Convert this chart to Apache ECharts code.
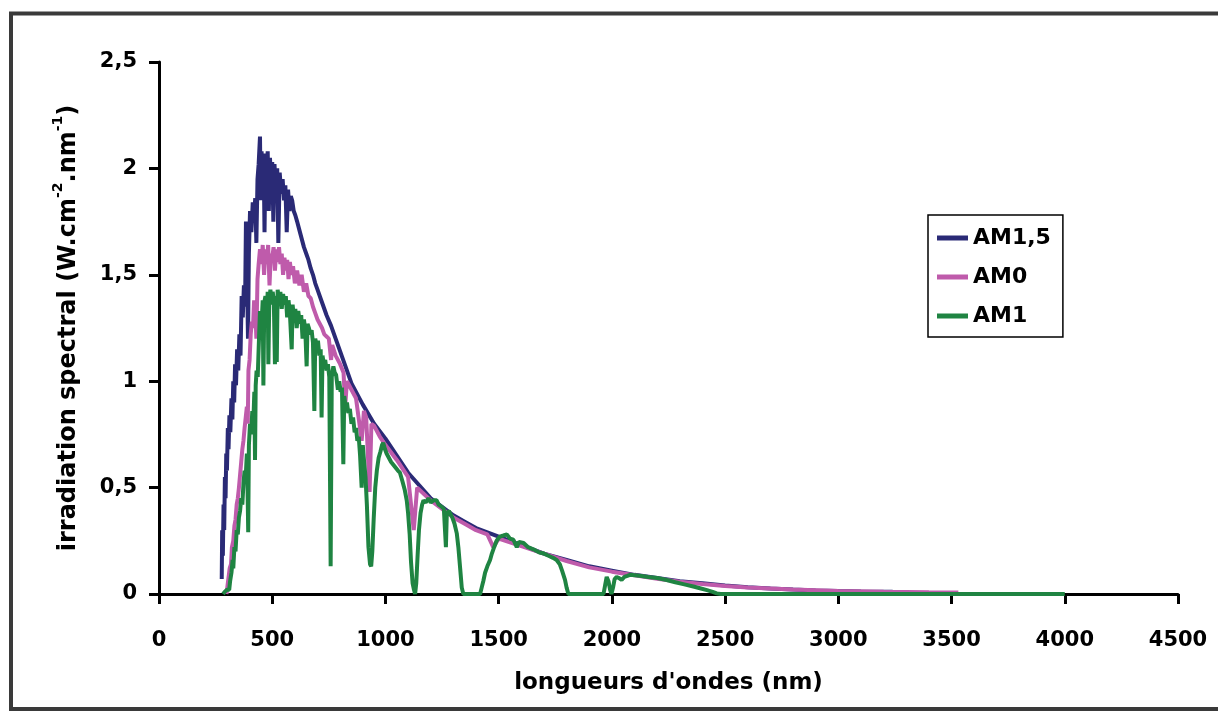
<!DOCTYPE html>
<html>
<head>
<meta charset="utf-8">
<script src="https://cdn.jsdelivr.net/npm/echarts@6/dist/echarts.min.js"></script>
<style>
html,body{margin:0;padding:0;background:#fff;}
#chart{width:1218px;height:711px;}
</style>
</head>
<body>
<div id="chart"></div>
<script>
// ---- data (wavelength nm, irradiance) ----
const seriesNames = ['AM1,5', 'AM0', 'AM1'];
const xTicks = [0, 500, 1000, 1500, 2000, 2500, 3000, 3500, 4000, 4500];
const yTicks = [0, 0.5, 1, 1.5, 2, 2.5];

const am15 = [[277,0.07],[279,0.30],[282,0.18],[285,0.42],[288,0.30],[291,0.55],[294,0.45],[297,0.66],[300,0.58],
[304,0.78],[307,0.68],[311,0.84],[315,0.76],[320,0.92],[324,0.82],[328,1.00],[332,0.90],[336,1.08],[340,0.98],
[345,1.15],[350,1.05],[355,1.22],[360,1.12],[365,1.40],[370,1.30],[375,1.45],[380,1.35],[384,1.75],[388,1.55],
[393,1.20],[397,1.60],[402,1.80],[408,1.70],[414,1.84],[420,1.78],[425,1.86],[430,1.65],[435,1.95],[440,2.02],
[446,2.15],[449,1.85],[453,2.08],[458,1.90],[462,2.07],[466,1.70],[470,2.05],[475,1.95],[480,2.08],[485,1.80],
[490,2.05],[495,1.95],[500,2.03],[505,1.75],[510,2.02],[516,1.90],[522,2.00],[527,1.65],[533,1.98],[540,1.88],
[546,1.95],[552,1.85],[558,1.92],[564,1.70],[570,1.90],[576,1.80],[582,1.87],[588,1.85],[595,1.80],[602,1.78],
[610,1.75],[620,1.71],[630,1.67],[640,1.63],[650,1.60],[660,1.57],[670,1.53],[680,1.50],[690,1.46],[700,1.43],
[720,1.37],[740,1.31],[760,1.26],[780,1.20],[800,1.14],[820,1.08],[850,0.99],[900,0.89],[950,0.80],[1000,0.73],
[1050,0.65],[1100,0.57],[1150,0.51],[1200,0.45],[1250,0.41],[1300,0.37],[1350,0.34],[1400,0.31],[1450,0.29],[1500,0.27],
[1600,0.23],[1700,0.19],[1800,0.16],[1900,0.13],[2000,0.11],[2100,0.09],[2200,0.075],[2300,0.06],[2400,0.05],[2500,0.04],
[2600,0.032],[2700,0.026],[2800,0.021],[2900,0.017],[3000,0.014],[3100,0.012],[3240,0.01]];

const am0 = [[298,0.0],[305,0.06],[312,0.12],[318,0.14],[322,0.22],[328,0.25],[333,0.32],[338,0.35],[343,0.42],[348,0.45],
[353,0.50],[358,0.56],[363,0.62],[368,0.68],[373,0.72],[378,0.78],[383,0.83],[388,0.88],[392,0.80],[395,1.05],
[400,1.10],[405,1.22],[410,1.28],[415,1.25],[420,1.38],[425,1.35],[430,1.20],[435,1.48],[440,1.55],[446,1.62],
[452,1.55],[458,1.64],[464,1.50],[470,1.62],[476,1.55],[482,1.64],[488,1.45],[494,1.60],[500,1.58],[506,1.63],
[512,1.52],[518,1.62],[524,1.56],[530,1.63],[536,1.55],[542,1.60],[548,1.50],[554,1.58],[560,1.52],[566,1.57],
[572,1.48],[578,1.56],[585,1.50],[592,1.54],[600,1.46],[610,1.52],[620,1.45],[630,1.50],[640,1.42],[650,1.46],
[660,1.40],[670,1.39],[680,1.35],[690,1.32],[700,1.29],[710,1.27],[720,1.25],[730,1.22],[740,1.21],[750,1.20],
[760,1.10],[765,1.17],[780,1.12],[800,1.08],[815,1.04],[822,0.88],[830,1.00],[850,0.96],[870,0.92],[895,0.72],
[905,0.86],[915,0.83],[930,0.48],[938,0.80],[950,0.79],[975,0.74],[1000,0.70],[1050,0.63],[1100,0.55],[1125,0.30],
[1140,0.50],[1170,0.47],[1200,0.44],[1250,0.40],[1300,0.36],[1350,0.33],[1400,0.30],[1450,0.28],[1476,0.22],[1500,0.26],
[1600,0.225],[1700,0.19],[1800,0.155],[1900,0.125],[2000,0.105],[2100,0.088],[2200,0.072],[2300,0.058],[2400,0.047],[2500,0.038],
[2600,0.031],[2800,0.021],[3000,0.014],[3200,0.01],[3400,0.008],[3530,0.007]];

const am1 = [[283,0],[290,0.01],[300,0.02],[310,0.02],[314,0.06],[320,0.10],[325,0.16],[328,0.12],[333,0.22],[338,0.20],
[343,0.30],[348,0.28],[353,0.36],[358,0.39],[363,0.45],[368,0.42],[373,0.52],[378,0.58],[383,0.55],[388,0.66],
[391,0.50],[394,0.29],[397,0.70],[402,0.80],[407,0.75],[412,0.86],[417,0.82],[421,0.95],[424,0.63],[427,0.98],
[431,1.05],[436,1.02],[440,1.15],[446,1.33],[452,1.25],[458,1.38],[461,0.98],[465,1.37],[470,1.40],[476,1.32],
[480,1.42],[483,1.08],[487,1.38],[492,1.43],[497,1.36],[502,1.42],[507,1.38],[512,1.08],[516,1.40],[520,1.09],
[524,1.43],[530,1.38],[536,1.42],[542,1.34],[548,1.41],[554,1.36],[560,1.40],[566,1.30],[572,1.38],[578,1.32],
[586,1.15],[590,1.36],[596,1.30],[602,1.34],[608,1.25],[615,1.33],[622,1.27],[628,1.31],[634,1.20],[640,1.29],
[646,1.24],[652,1.07],[656,1.27],[662,1.25],[668,1.22],[674,1.24],[680,1.18],[686,0.86],[690,1.20],[696,1.17],
[702,1.19],[708,1.12],[714,1.15],[718,0.83],[722,1.12],[728,1.08],[734,1.10],[740,1.05],[746,1.08],[752,1.02],
[758,0.13],[763,1.02],[770,1.07],[776,1.04],[782,1.03],[790,0.96],[796,1.00],[802,0.95],[808,0.97],[814,0.61],
[818,0.93],[824,0.88],[830,0.90],[836,0.85],[843,0.87],[850,0.80],[857,0.83],[864,0.76],[870,0.78],[876,0.72],
[882,0.74],[888,0.65],[895,0.50],[900,0.70],[906,0.62],[912,0.55],[918,0.42],[925,0.22],[932,0.14],[937,0.13],
[942,0.20],[948,0.35],[955,0.50],[962,0.58],[970,0.64],[978,0.67],[985,0.70],[990,0.71],[998,0.68],[1005,0.66],
[1015,0.64],[1025,0.62],[1040,0.60],[1055,0.58],[1064,0.57],[1075,0.53],[1085,0.49],[1094,0.44],[1100,0.38],[1107,0.28],
[1113,0.15],[1120,0.05],[1126,0.02],[1131,0.0],[1136,0.05],[1142,0.18],[1148,0.30],[1155,0.38],[1162,0.42],[1168,0.44],
[1178,0.43],[1190,0.45],[1200,0.43],[1212,0.44],[1226,0.44],[1235,0.42],[1248,0.41],[1258,0.40],[1263,0.30],[1267,0.22],
[1271,0.38],[1280,0.39],[1285,0.39],[1295,0.36],[1305,0.33],[1315,0.285],[1322,0.22],[1330,0.12],[1337,0.03],[1344,0.0],
[1418,0.0],[1425,0.03],[1432,0.06],[1440,0.10],[1450,0.13],[1462,0.16],[1470,0.19],[1480,0.22],[1491,0.25],[1505,0.27],
[1521,0.275],[1536,0.28],[1550,0.26],[1565,0.255],[1580,0.22],[1590,0.245],[1610,0.24],[1630,0.22],[1653,0.21],[1680,0.195],
[1700,0.19],[1720,0.18],[1740,0.17],[1756,0.16],[1770,0.14],[1780,0.11],[1793,0.066],[1800,0.03],[1808,0.0],[1963,0.0],
[1970,0.04],[1977,0.08],[1985,0.06],[1992,0.02],[1998,0.0],[2005,0.03],[2012,0.07],[2021,0.08],[2032,0.075],[2043,0.066],
[2055,0.08],[2068,0.085],[2080,0.09],[2100,0.088],[2130,0.085],[2160,0.08],[2200,0.075],[2242,0.066],[2280,0.055],[2320,0.045],
[2360,0.035],[2389,0.027],[2420,0.018],[2445,0.01],[2463,0.003],[2480,0.0],[4000,0.0]];

const colors = ['#2a2a76', '#bf5bab', '#1f8442'];
const seriesData = [am15, am0, am1];

const FONT = 'DejaVu Sans';
const chart = echarts.init(document.getElementById('chart'), null, {renderer: 'canvas'});
const fmtY = v => String(v).replace('.', ',');
const fmtX = v => String(v);

chart.setOption({
  animation: false,
  backgroundColor: '#ffffff',
  graphic: [{
    type: 'rect', silent: true, z: 100,
    shape: {x: 11, y: 13.5, width: 1240, height: 695.5},
    style: {fill: 'none', stroke: '#3a3a3a', lineWidth: 4}
  }],
  grid: {left: 159, right: 40, top: 62, bottom: 117, containLabel: false},
  legend: {
    orient: 'vertical', left: 928, top: 215,
    data: seriesNames,
    icon: 'rect', itemWidth: 31, itemHeight: 5, itemGap: 17,
    padding: [12, 12, 10, 9],
    borderColor: '#000', borderWidth: 1.5, backgroundColor: '#fff',
    textStyle: {fontFamily: FONT, fontWeight: 'bold', fontSize: 22, color: '#000'}
  },
  xAxis: {
    type: 'value', min: 0, max: 4500, interval: 500,
    name: 'longueurs d\'ondes (nm)', nameLocation: 'middle', nameGap: 78,
    nameTextStyle: {fontFamily: FONT, fontWeight: 'bold', fontSize: 23, color: '#000'},
    axisLine: {lineStyle: {color: '#000', width: 3}},
    axisTick: {show: true, length: 10, lineStyle: {color: '#000', width: 3}, customValues: xTicks},
    axisLabel: {margin: 36, fontFamily: FONT, fontWeight: 'bold', fontSize: 21, color: '#000',
      formatter: fmtX, customValues: xTicks},
    splitLine: {show: false}
  },
  yAxis: {
    type: 'value', min: 0, max: 2.5, interval: 0.5,
    name: '{a|irradiation spectral (W.cm}{s|-2}{a|.nm}{s|-1}{a|)}',
    nameLocation: 'middle', nameGap: 78, nameRotate: 90,
    nameTextStyle: {
      fontFamily: FONT, fontWeight: 'bold', fontSize: 24, color: '#000',
      rich: {
        a: {fontFamily: FONT, fontWeight: 'bold', fontSize: 24, color: '#000', lineHeight: 30, verticalAlign: 'bottom'},
        s: {fontFamily: FONT, fontWeight: 'bold', fontSize: 14, color: '#000', lineHeight: 30, verticalAlign: 'top'}
      }
    },
    axisLine: {show: true, lineStyle: {color: '#000', width: 3}},
    axisTick: {show: true, length: 10, lineStyle: {color: '#000', width: 3}, customValues: yTicks},
    axisLabel: {margin: 22, fontFamily: FONT, fontWeight: 'bold', fontSize: 21, color: '#000',
      formatter: fmtY, customValues: yTicks},
    splitLine: {show: false}
  },
  series: seriesNames.map((n, i) => ({
    name: n, type: 'line', data: seriesData[i],
    showSymbol: false, symbol: 'none',
    lineStyle: {color: colors[i], width: 4},
    itemStyle: {color: colors[i]},
    z: 2 + i
  }))
});
</script>
</body>
</html>
